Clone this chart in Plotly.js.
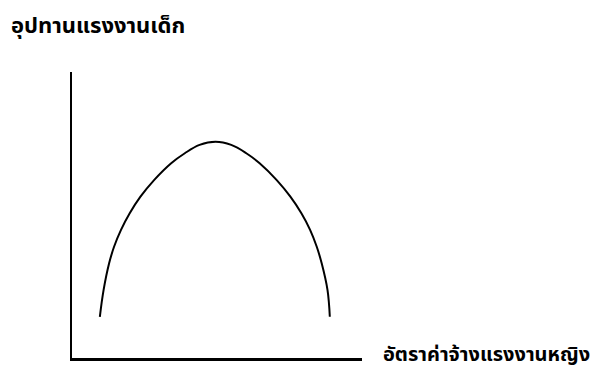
<!DOCTYPE html>
<html>
<head>
<meta charset="utf-8">
<script src="https://cdn.plot.ly/plotly-3.0.1.min.js"></script>
<style>
html,body{margin:0;padding:0;background:#fff;}
#chart{width:594px;height:374px;}
</style>
</head>
<body>
<div id="chart"></div>
<script>
// Curve (arbitrary units, 0-100)
var wageRate = [9.6, 10.9, 12.8, 14.5, 16.9, 19.9, 23.6, 28.3, 34.2, 38.9, 44.0, 49.5,
                54.9, 60.1, 64.7, 70.6, 75.3, 79.1, 82.1, 84.4, 86.1, 88.1, 88.9];
var childLabor = [14.4, 23.8, 33.1, 38.9, 44.8, 50.6, 56.4, 62.2, 68.1, 71.6, 74.5, 75.6,
                  74.5, 71.6, 68.1, 62.2, 56.4, 50.6, 44.8, 38.9, 33.1, 23.8, 14.4];
var yLabel = "อุปทานแรงงานเด็ก";
var xLabel = "อัตราค่าจ้างแรงงานหญิง";

var thaiFont = 'Tahoma, "Noto Sans Thai", "Noto Sans", "DejaVu Sans", sans-serif';

var trace = {
  x: wageRate,
  y: childLabor,
  mode: 'lines',
  line: {color: '#000', width: 2, shape: 'spline', smoothing: 1.1},
  hoverinfo: 'none'
};

var axisCommon = {
  showline: true, linecolor: '#000', linewidth: 2.5,
  showgrid: false, zeroline: false, ticks: '', showticklabels: false,
  fixedrange: true
};

var layout = {
  width: 594, height: 374,
  margin: {l: 72, r: 232, t: 72, b: 16},
  paper_bgcolor: '#fff', plot_bgcolor: '#fff',
  showlegend: false,
  xaxis: Object.assign({range: [0, 100]}, axisCommon),
  yaxis: Object.assign({range: [0, 100]}, axisCommon),
  annotations: [
    {text: '<b>' + yLabel + '</b>', xref: 'paper', yref: 'paper',
     x: -0.217, y: 1.158, xanchor: 'left', yanchor: 'middle', showarrow: false,
     font: {family: thaiFont, size: 22, color: '#000'}},
    {text: '<b>' + xLabel + '</b>', xref: 'paper', yref: 'paper',
     x: 1.0655, y: 0.012, xanchor: 'left', yanchor: 'middle', showarrow: false,
     font: {family: thaiFont, size: 20, color: '#000'}}
  ]
};

Plotly.newPlot('chart', [trace], layout, {displayModeBar: false, staticPlot: true});
</script>
</body>
</html>
